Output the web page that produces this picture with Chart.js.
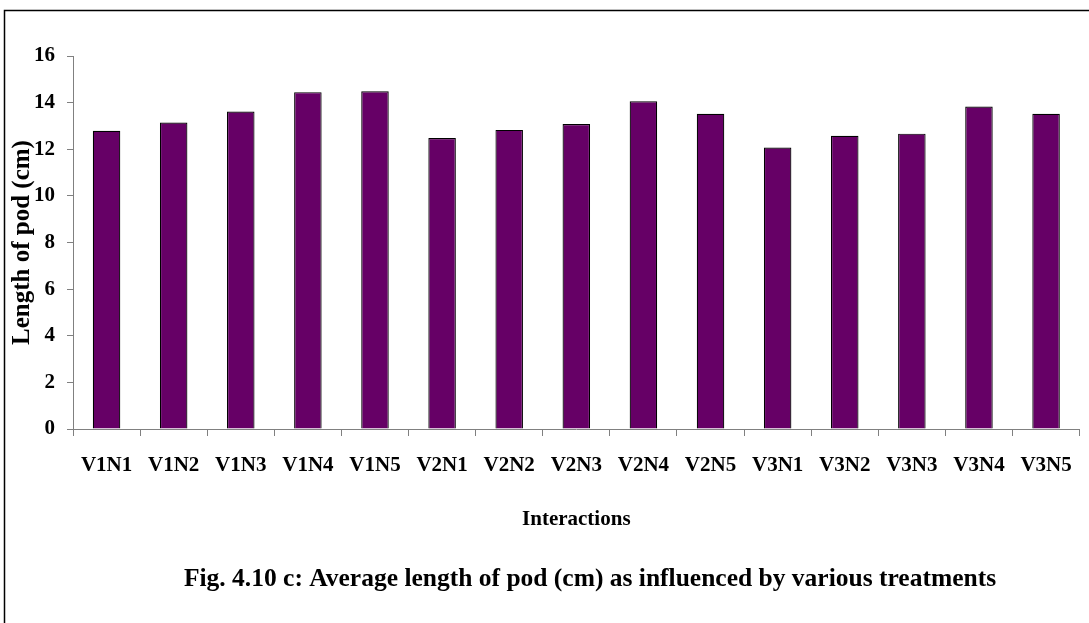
<!DOCTYPE html>
<html>
<head>
<meta charset="utf-8">
<script src="https://cdn.jsdelivr.net/npm/chart.js@4.4.1/dist/chart.umd.min.js"></script>
<style>
html,body{margin:0;padding:0;background:#fff;}
#wrap{width:1089px;height:623px;position:relative;}
</style>
</head>
<body>
<div id="wrap"><canvas id="c" width="1089" height="623"></canvas></div>
<script>
const categories = ["V1N1","V1N2","V1N3","V1N4","V1N5","V2N1","V2N2","V2N3","V2N4","V2N5","V3N1","V3N2","V3N3","V3N4","V3N5"];
const podLength = [12.79,13.15,13.62,14.45,14.49,12.48,12.83,13.08,14.06,13.52,12.07,12.58,12.67,13.83,13.52];
const yTicks = [0,2,4,6,8,10,12,14,16];
const xTitle = "Interactions";
const yTitle = "Length of pod (cm)";
const caption = "Fig. 4.10 c: Average length of pod (cm) as influenced by various treatments";

const SERIF = '"Liberation Serif","Times New Roman",serif';

const framePlugin = {
  id: 'frame',
  beforeDraw(chart) {
    const ctx = chart.ctx;
    ctx.save();
    ctx.fillStyle = '#fff';
    ctx.fillRect(0, 0, chart.width, chart.height);
    ctx.strokeStyle = '#000';
    ctx.lineWidth = 1.5;
    ctx.beginPath();
    ctx.moveTo(4.5, chart.height);
    ctx.lineTo(4.5, 10.5);
    ctx.lineTo(chart.width, 10.5);
    ctx.stroke();
    ctx.restore();
  },
  afterDraw(chart) {
    const ctx = chart.ctx;
    ctx.save();
    ctx.fillStyle = '#000';
    ctx.font = 'bold 25.5px ' + SERIF;
    ctx.textAlign = 'center';
    ctx.textBaseline = 'alphabetic';
    ctx.fillText(caption, 590, 586);
    ctx.restore();
  }
};

new Chart(document.getElementById('c'), {
  type: 'bar',
  data: {
    labels: categories,
    datasets: [{
      data: podLength,
      backgroundColor: '#660066',
      borderColor: '#000000',
      borderWidth: 1.2,
      barPercentage: 0.41,
      categoryPercentage: 1.0
    }]
  },
  options: {
    responsive: false,
    animation: false,
    devicePixelRatio: 1,
    layout: { padding: { left: 0, right: 8, top: 56, bottom: 0 } },
    plugins: { legend: { display: false }, tooltip: { enabled: false }, title: { display: false } },
    scales: {
      x: {
        grid: { display: true, drawOnChartArea: false, drawTicks: true, tickLength: 7, color: '#808080', offset: true },
        border: { display: true, color: '#808080', width: 1 },
        ticks: { color: '#000', font: { family: SERIF, size: 21, weight: 'bold' }, padding: 17, maxRotation: 0, autoSkip: false },
        title: { display: true, text: xTitle, color: '#000', font: { family: SERIF, size: 21, weight: 'bold', lineHeight: 1.2 }, padding: { top: 0, bottom: 91 } },
        afterFit(scale) { scale.height = 194; }
      },
      y: {
        min: 0, max: 16,
        afterBuildTicks(scale) { scale.ticks = yTicks.map(v => ({ value: v })); },
        grid: { display: true, drawOnChartArea: false, drawTicks: true, tickLength: 6, color: '#808080' },
        border: { display: true, color: '#808080', width: 1 },
        ticks: { color: '#000', font: { family: SERIF, size: 21, weight: 'bold' }, padding: 12 },
        title: { display: true, text: yTitle, color: '#000', font: { family: SERIF, size: 25, weight: 'bold', lineHeight: 1.2 }, padding: { top: 8, bottom: 0 } },
        afterFit(scale) { scale.width = 73; }
      }
    }
  },
  plugins: [framePlugin]
});
</script>
</body>
</html>
